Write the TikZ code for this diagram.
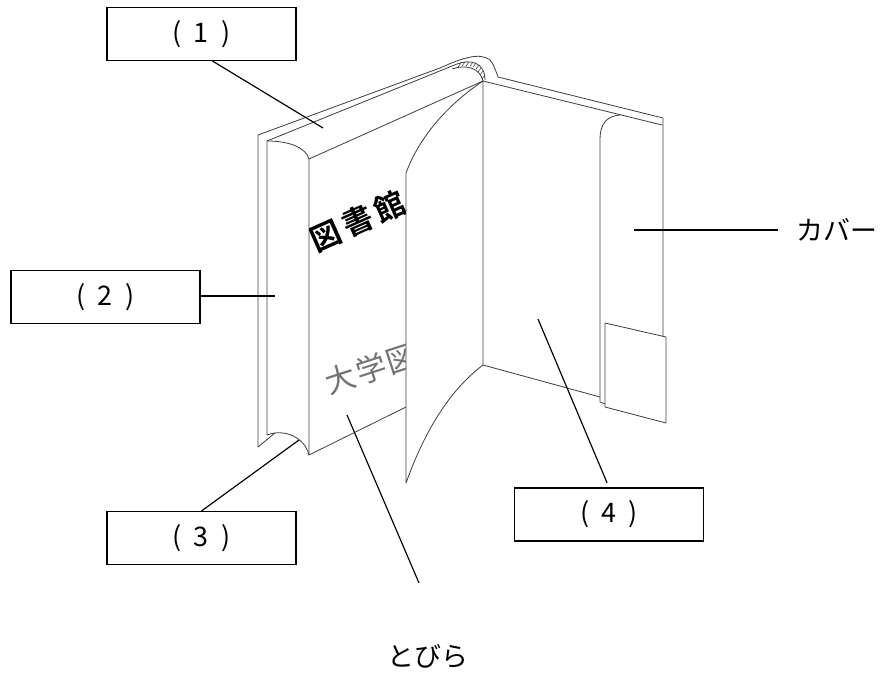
\documentclass[tikz,border=0pt]{standalone}
\usepackage{fontspec}
\newfontfamily\jp{Noto Sans CJK JP}[BoldFont={Noto Sans CJK JP Bold}]
\newcommand\paren[1]{(\hspace{0.45em}#1\hspace{0.45em})}
\begin{document}
\begin{tikzpicture}[x=0.03cm,y=-0.03cm,
    box/.style={draw,line width=1.2pt,minimum width=5.67cm,minimum height=1.58cm,inner sep=0pt,font=\jp\fontsize{23}{27}\selectfont},
    word/.style={inner sep=0pt,font=\jp\fontsize{23}{27}\selectfont},
    lead/.style={line width=1pt},
    page/.style={draw=black!75,line width=0.7pt,line join=round}]
  \useasboundingbox (0,0) rectangle (880,677);

  % cover
  \draw[page] (258,447) -- (258,135) -- (440,68) .. controls (462,58) and (480,52) .. (490,60)
    .. controls (494,64) and (496,72) .. (498,77) -- (663,118) -- (663,336);
  \draw[page] (258,447) -- (275,433);
  \draw[page] (267,435) -- (267,141) -- (457,64) .. controls (470,59) and (485,62) .. (485,80);
  \draw[page] (483,81) -- (662,125);
  % spine hatching
  \draw[page] (452,69) .. controls (466,64) and (480,68) .. (483,81);
  \foreach \a/\b in {461/63, 465/62, 469/62, 473/62, 476/63, 479/65, 481/68, 483/71, 485/75}
    \draw[page,line width=0.5pt] (\a,\b) -- ++(-3,4);
  % text block
  \draw[page] (267,141) .. controls (290,141) and (306,148) .. (309,159);
  \draw[page] (267,435) .. controls (285,428) and (305,438) .. (309,455);
  \draw[page] (309,159) -- (309,455) -- (406,407);
  \draw[page] (309,159) -- (483,81);
  % turning page
  \draw[page] (483,81) .. controls (450,103) and (420,135) .. (406,173) -- (406,483)
    .. controls (425,430) and (450,390) .. (483,365);
  \draw[page] (483,81) -- (483,365) -- (600,397);
  % flap and pocket
  \draw[page] (605,404) -- (600,402) -- (600,140) .. controls (600,122) and (608,116) .. (620,115);
  \draw[page] (605,323) -- (666,337) -- (666,423) -- (605,407) -- cycle;

  % titles on the page
  \begin{scope}
    \clip (309,150) rectangle (405,470);
    \node[inner sep=0pt,rotate=24,font=\jp\bfseries\fontsize{26}{30}\selectfont] (ttl) at (358,221) {図\hspace{0.15em}書\hspace{0.15em}館};
    \node[inner sep=0pt,rotate=18,text=black!55,font=\jp\fontsize{26}{30}\selectfont] (sub) at (371,369) {大\hspace{0.05em}学\hspace{0.05em}図};
  \end{scope}

  % labels
  \node[box] (b1) at (201.5,34) {\paren{1}};
  \node[box] (b2) at (105.5,297) {\paren{2}};
  \node[box] (b3) at (201.5,538) {\paren{3}};
  \node[box] (b4) at (609,514.5) {\paren{4}};
  \node[word,anchor=west] (cov) at (796,230) {カバー};
  \node[word] (tob) at (428,656) {とびら};

  \coordinate (p1) at (323,128);
  \coordinate (p2) at (275,296);
  \coordinate (p3) at (299,440);
  \coordinate (p4) at (538,319);
  \coordinate (p5) at (347,415);
  \coordinate (q5) at (419,583);
  \coordinate (p6) at (634,230);

  \draw[lead] ([xshift=0.33cm]b1.south) -- (p1);
  \draw[lead] ([yshift=0.03cm]b2.east) -- (p2);
  \draw[lead] (b3.north) -- (p3);
  \draw[lead,shorten <=0.15cm] (b4.north) -- (p4);
  \draw[lead] (q5) -- (p5);
  \draw[lead,shorten <=0.54cm] (cov.west) -- (p6);
\end{tikzpicture}
\end{document}
